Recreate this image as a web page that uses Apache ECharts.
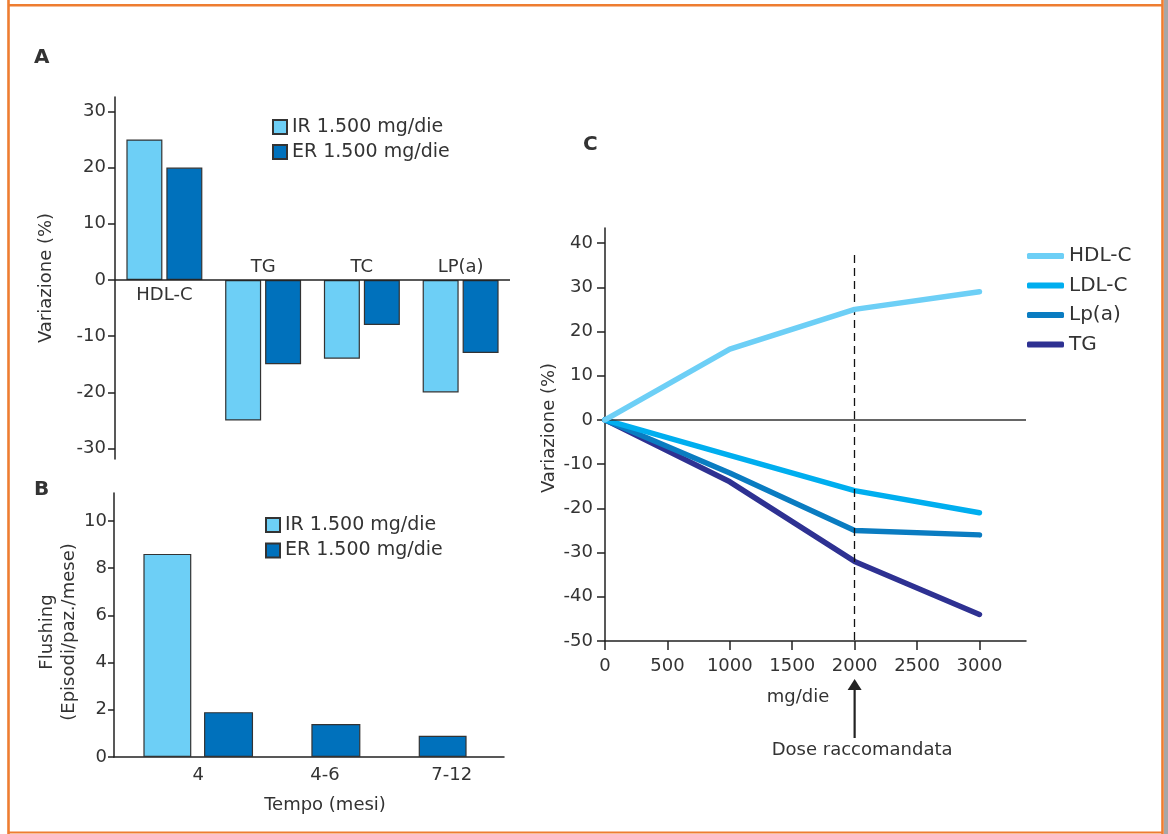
<!DOCTYPE html>
<html>
<head>
<meta charset="utf-8">
<script src="https://cdn.jsdelivr.net/npm/echarts@6/dist/echarts.min.js"></script>
<style>
  html, body { margin: 0; padding: 0; background: #fff; }
  #main { width: 1168px; height: 834px; }
</style>
</head>
<body>
<div id="main"></div>
<script>
// A - variazione lipidi (%)
const lipidCats = ['HDL-C', 'TG', 'TC', 'LP(a)'];
const lipidIR = [25, -25, -14, -20];
const lipidER = [20, -15, -8, -13];
const lipidTicks = [-30, -20, -10, 0, 10, 20, 30];

// B - flushing
const flushCats = ['4', '4-6', '7-12'];
const flushIR = [8.6, null, null];
const flushER = [1.9, 1.4, 0.9];
const flushTicks = [0, 2, 4, 6, 8, 10];

// C - dose / risposta
const doses = [0, 1000, 2000, 3000];
const hdlC = [0, 16, 25, 29];
const ldlC = [0, -8, -16, -21];
const lpA = [0, -12, -25, -26];
const tgC = [0, -14, -32, -44];
const doseTicks = [0, 500, 1000, 1500, 2000, 2500, 3000];
const changeTicks = [-50, -40, -30, -20, -10, 0, 10, 20, 30, 40];
const recommendedDose = 2000;

const IR_NAME = 'IR 1.500 mg/die';
const ER_NAME = 'ER 1.500 mg/die';

const FONT = 'DejaVu Sans';
const TXT = '#333';
const AX = '#222';
const ORANGE = '#ee7d31';
const FLUSH_MAX = 11.18;

const pairs = (ys) => doses.map((d, i) => [d, ys[i]]);
const dash = (v) => (v == null ? '-' : v);

function valueAxis(grid, min, max, ticks, extra) {
    return Object.assign({
        gridIndex: grid, type: 'value', min: min, max: max,
        axisLine: { show: true, onZero: false, lineStyle: { color: AX, width: 1.5 } },
        axisTick: { show: true, length: 7, customValues: ticks, lineStyle: { color: AX, width: 1.5 } },
        axisLabel: { customValues: ticks, fontSize: 18, color: TXT, fontFamily: FONT, margin: 9 },
        splitLine: { show: false },
        nameLocation: 'middle',
        nameTextStyle: { fontSize: 18, color: TXT, fontFamily: FONT }
    }, extra || {});
}

const hiddenAxis = (grid, type, extra) => Object.assign({ gridIndex: grid, type: type, show: false }, extra || {});

const barStyle = (color) => ({ color: color, borderColor: '#333', borderWidth: 1.2 });

const lineSeries = (name, ys, color, z) => ({
    name: name, type: 'line', xAxisIndex: 4, yAxisIndex: 2,
    data: pairs(ys), symbol: 'none', z: z,
    itemStyle: { color: color },
    lineStyle: { color: color, width: 5.5, cap: 'round', join: 'round' }
});

const chart = echarts.init(document.getElementById('main'));

const option = {
    animation: false,
    backgroundColor: '#fff',
    textStyle: { fontFamily: FONT, color: TXT },
    title: [
        { text: 'A', left: 34, top: 48, padding: 0, textStyle: { fontSize: 20, fontWeight: 'bold', color: TXT } },
        { text: 'B', left: 34, top: 480, padding: 0, textStyle: { fontSize: 20, fontWeight: 'bold', color: TXT } },
        { text: 'C', left: 583, top: 135, padding: 0, textStyle: { fontSize: 20, fontWeight: 'bold', color: TXT } }
    ],
    legend: [
        {
            data: [IR_NAME, ER_NAME], orient: 'vertical', left: 272, top: 117.5, padding: 0,
            icon: 'rect', itemWidth: 14, itemHeight: 14, itemGap: 6,
            textStyle: { fontSize: 19, color: TXT, fontFamily: FONT }
        },
        {
            data: [IR_NAME, ER_NAME], orient: 'vertical', left: 265, top: 515.5, padding: 0,
            icon: 'rect', itemWidth: 14, itemHeight: 14, itemGap: 6.5,
            textStyle: { fontSize: 19, color: TXT, fontFamily: FONT }
        },
        {
            data: ['HDL-C', 'LDL-C', 'Lp(a)', 'TG'], orient: 'vertical', left: 1027, top: 246, padding: 0,
            icon: 'roundRect', itemWidth: 37, itemHeight: 6, itemGap: 9.5,
            textStyle: { fontSize: 20, color: TXT, fontFamily: FONT }
        }
    ],
    grid: [
        { left: 115, top: 97, width: 395, height: 362 },        // A
        { left: 114, top: 493, width: 390, height: 264 },       // B cornice (assi)
        { left: 605, top: 228, width: 421, height: 413 },       // C
        { left: 135, top: 493, width: 380, height: 264 },       // B etichette tempo
        { left: 144, top: 493, width: 322, height: 264 }        // B barre
    ],
    xAxis: [
        {
            gridIndex: 0, type: 'category', data: lipidCats, position: 'bottom',
            axisLine: { show: false, onZero: false }, axisTick: { show: false },
            axisLabel: { fontSize: 18, color: TXT, margin: -173, formatter: (v, i) => (lipidIR[i] >= 0 ? v : '') }
        },
        {
            gridIndex: 0, type: 'category', data: lipidCats, position: 'top',
            axisLine: { show: false, onZero: false }, axisTick: { show: false },
            axisLabel: { fontSize: 18, color: TXT, margin: -179, formatter: (v, i) => (lipidIR[i] < 0 ? v : '') }
        },
        {
            gridIndex: 1, type: 'value', min: 0, max: 1,
            axisLine: { show: true, onZero: false, lineStyle: { color: AX, width: 1.5 } },
            axisTick: { show: false }, axisLabel: { show: false }, splitLine: { show: false }
        },
        {
            gridIndex: 3, type: 'category', data: flushCats, position: 'bottom',
            axisLine: { show: false, onZero: false }, axisTick: { show: false },
            axisLabel: { fontSize: 18, color: TXT, margin: 9 },
            name: 'Tempo (mesi)', nameLocation: 'middle', nameGap: 39,
            nameTextStyle: { fontSize: 18, color: TXT }
        },
        {
            gridIndex: 2, type: 'value', min: 0, max: 3373, position: 'bottom',
            axisLine: { show: true, onZero: false, lineStyle: { color: AX, width: 1.5 } },
            axisTick: { show: true, length: 9, customValues: doseTicks, lineStyle: { color: AX, width: 1.5 } },
            axisLabel: { customValues: doseTicks, fontSize: 18, color: TXT, margin: 16, formatter: (v) => String(v) },
            splitLine: { show: false },
            name: 'mg/die', nameLocation: 'middle', nameGap: 47,
            nameTextStyle: { fontSize: 18, color: TXT, padding: [0, 35, 0, 0] }
        },
        hiddenAxis(4, 'category', { data: flushCats })
    ],
    yAxis: [
        valueAxis(0, -31.85, 32.56, lipidTicks, { name: 'Variazione (%)', nameGap: 60 }),
        valueAxis(1, 0, FLUSH_MAX, flushTicks, {
            name: 'Flushing\n(Episodi/paz./mese)', nameGap: 34,
            axisLabel: { customValues: flushTicks, fontSize: 18, color: TXT, fontFamily: FONT, margin: 7 },
            axisTick: { show: true, length: 6, customValues: flushTicks, lineStyle: { color: AX, width: 1.5 } },
            nameTextStyle: { fontSize: 18, color: TXT, lineHeight: 22, padding: [0, 14, 0, 0] }
        }),
        valueAxis(2, -50, 43.4, changeTicks, {
            name: 'Variazione (%)', nameGap: 47,
            axisLabel: { customValues: changeTicks, fontSize: 18, color: TXT, fontFamily: FONT, margin: 12 },
            axisTick: { show: true, length: 8, customValues: changeTicks, lineStyle: { color: AX, width: 1.5 } },
            nameTextStyle: { fontSize: 18, color: TXT, padding: [0, 0, 0, 13] }
        }),
        hiddenAxis(3, 'value', { min: 0, max: FLUSH_MAX }),
        hiddenAxis(4, 'value', { min: 0, max: FLUSH_MAX })
    ],
    series: [
        {
            name: IR_NAME, type: 'bar', xAxisIndex: 0, yAxisIndex: 0, data: lipidIR,
            barWidth: 36, barGap: '11%', itemStyle: barStyle('#6dcff6'),
            markLine: {
                silent: true, symbol: 'none', label: { show: false },
                lineStyle: { type: 'solid', color: AX, width: 1.5 },
                data: [{ yAxis: 0 }]
            }
        },
        { name: ER_NAME, type: 'bar', xAxisIndex: 0, yAxisIndex: 0, data: lipidER, barWidth: 36, barGap: '11%', itemStyle: barStyle('#0071bc') },

        { name: IR_NAME, type: 'bar', xAxisIndex: 5, yAxisIndex: 4, data: flushIR.map(dash), barWidth: 49, barGap: '26%', itemStyle: barStyle('#6dcff6') },
        { name: ER_NAME, type: 'bar', xAxisIndex: 5, yAxisIndex: 4, data: flushER.map(dash), barWidth: 49, barGap: '26%', itemStyle: barStyle('#0071bc') },

        lineSeries('HDL-C', hdlC, '#6dcff6', 5),
        lineSeries('LDL-C', ldlC, '#00aeef', 4),
        lineSeries('Lp(a)', lpA, '#0a7cc1', 3),
        Object.assign(lineSeries('TG', tgC, '#2e3192', 2), {
            markLine: {
                silent: true, symbol: 'none', label: { show: false },
                data: [
                    { yAxis: 0, lineStyle: { type: 'solid', color: '#333', width: 1.5 } },
                    [
                        { coord: [recommendedDose, 37.3], lineStyle: { type: [8, 5], color: '#111', width: 1.3 } },
                        { coord: [recommendedDose, -50] }
                    ]
                ]
            }
        })
    ]
};

chart.setOption(option);

// freccia "Dose raccomandata" sotto l'asse, allineata alla dose 2000
const ax = chart.convertToPixel({ xAxisIndex: 4 }, recommendedDose);
chart.setOption({
    graphic: [
        { type: 'line', shape: { x1: 8.5, y1: 0, x2: 8.5, y2: 834 }, style: { stroke: ORANGE, lineWidth: 2.6 } },
        { type: 'line', shape: { x1: 1162.5, y1: 0, x2: 1162.5, y2: 834 }, style: { stroke: ORANGE, lineWidth: 2.6 } },
        { type: 'line', shape: { x1: 8, y1: 5.3, x2: 1163, y2: 5.3 }, style: { stroke: ORANGE, lineWidth: 2.6 } },
        { type: 'line', shape: { x1: 8, y1: 832.5, x2: 1163, y2: 832.5 }, style: { stroke: ORANGE, lineWidth: 2.2 } },
        { type: 'rect', shape: { x: 1164, y: 0, width: 4, height: 834 }, style: { fill: '#a7a7a7' } },
        { type: 'line', shape: { x1: ax, y1: 738, x2: ax, y2: 688 }, style: { stroke: '#222', lineWidth: 2.2 } },
        { type: 'polygon', shape: { points: [[ax - 7, 690], [ax + 7, 690], [ax, 679]] }, style: { fill: '#222' } },
        {
            type: 'text', x: ax + 7.5, y: 750,
            style: { text: 'Dose raccomandata', fontSize: 18, fontFamily: FONT, fill: TXT, align: 'center', verticalAlign: 'middle' }
        }
    ]
});
</script>
</body>
</html>
